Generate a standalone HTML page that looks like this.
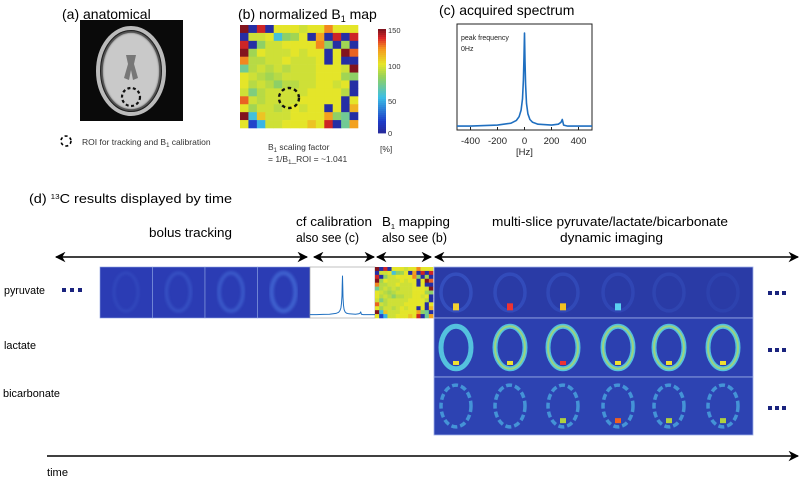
<!DOCTYPE html>
<html><head><meta charset="utf-8">
<style>
html,body{margin:0;padding:0;background:#fff;overflow:hidden;}
svg{display:block;font-family:"Liberation Sans",sans-serif;}
.c{font-family:"Liberation Sans Narrow","Liberation Sans",sans-serif;}
</style></head>
<body>
<svg id="fig" width="800" height="479" viewBox="0 0 800 479" xmlns="http://www.w3.org/2000/svg">
<defs>
<marker id="ah" viewBox="0 0 10 10" refX="9" refY="5" markerWidth="7" markerHeight="7" orient="auto-start-reverse"><path d="M0,0 L10,5 L0,10 L3,5 z" fill="#000"/></marker>
<filter id="blur1"><feGaussianBlur stdDeviation="1.2"/></filter>
</defs>
<text x="62" y="19" font-size="14">(a) anatomical</text>
<text x="238" y="19" font-size="14">(b) normalized B<tspan font-size="9" dy="3">1</tspan><tspan dy="-3"> map</tspan></text>
<text x="439" y="15" font-size="14">(c) acquired spectrum</text>

<g>
<rect x="80" y="20" width="103" height="101" fill="#0a0a0a"/>
<ellipse cx="131" cy="71" rx="33" ry="43" fill="none" stroke="#bbb" stroke-width="4"/>
<ellipse cx="131" cy="71" rx="29" ry="39" fill="#c9c9c9" filter="url(#blur1)"/>
<ellipse cx="131" cy="71" rx="29" ry="39" fill="none" stroke="#555" stroke-width="1.5"/>
<path d="M126,55 L136,55 L134,64 L138,78 L133,80 L131,70 L129,80 L124,78 L128,64z" fill="#777"/>
<circle cx="131" cy="97" r="9" fill="none" stroke="#111" stroke-width="2.2" stroke-dasharray="3,2.5"/>
</g>
<circle cx="66" cy="141" r="5" fill="none" stroke="#000" stroke-width="1.6" stroke-dasharray="3,2.5"/>
<text x="82" y="145" font-size="8.5" fill="#333">ROI for tracking and B<tspan font-size="6" dy="2">1</tspan><tspan dy="-2"> calibration</tspan></text>

<g id="b1map"></g>
<circle cx="289" cy="98" r="10" fill="none" stroke="#111" stroke-width="2.4" stroke-dasharray="3.5,3"/>
<g id="cbar"></g>
<text x="388" y="33" font-size="7.5" fill="#333">150</text>
<text x="388" y="69" font-size="7.5" fill="#333">100</text>
<text x="388" y="104" font-size="7.5" fill="#333">50</text>
<text x="388" y="136" font-size="7.5" fill="#333">0</text>
<text x="380" y="152" font-size="8.5" fill="#333">[%]</text>
<text x="268" y="150" font-size="8.5" fill="#333">B<tspan font-size="6" dy="2">1</tspan><tspan dy="-2"> scaling factor</tspan></text>
<text x="268" y="162" font-size="8.5" fill="#333">= 1/B<tspan font-size="6" dy="2">1</tspan><tspan dy="-2">_ROI  = ~1.041</tspan></text>

<g id="spec"></g>

<!-- panel d -->
<text x="29" y="203" font-size="12.5" textLength="203" lengthAdjust="spacingAndGlyphs">(d) <tspan font-size="7" dy="-4">13</tspan><tspan dy="4">C results displayed by time</tspan></text>
<text x="149" y="237" font-size="12.5" textLength="83" lengthAdjust="spacingAndGlyphs">bolus tracking</text>
<text x="296" y="226" font-size="12.5" textLength="76" lengthAdjust="spacingAndGlyphs">cf calibration</text>
<text x="296" y="242" font-size="12.5" textLength="63" lengthAdjust="spacingAndGlyphs">also see (c)</text>
<text x="382" y="226" font-size="12.5" textLength="68" lengthAdjust="spacingAndGlyphs">B<tspan font-size="7" dy="3">1</tspan><tspan dy="-3"> mapping</tspan></text>
<text x="382" y="242" font-size="12.5" textLength="65" lengthAdjust="spacingAndGlyphs">also see (b)</text>
<text x="492" y="226" font-size="12.5" textLength="236" lengthAdjust="spacingAndGlyphs">multi-slice pyruvate/lactate/bicarbonate</text>
<text x="560" y="242" font-size="12.5" textLength="103" lengthAdjust="spacingAndGlyphs">dynamic imaging</text>
<g stroke="#000" stroke-width="1.5" fill="none">
<line x1="56" y1="257" x2="307" y2="257" marker-start="url(#ah)" marker-end="url(#ah)"/>
<line x1="314" y1="257" x2="374" y2="257" marker-start="url(#ah)" marker-end="url(#ah)"/>
<line x1="377" y1="257" x2="431" y2="257" marker-start="url(#ah)" marker-end="url(#ah)"/>
<line x1="435" y1="257" x2="798" y2="257" marker-start="url(#ah)" marker-end="url(#ah)"/>
<line x1="47" y1="456" x2="798" y2="456" marker-end="url(#ah)"/>
</g>
<text x="47" y="476" font-size="11" textLength="21" lengthAdjust="spacingAndGlyphs">time</text>
<text x="4" y="294" font-size="11" textLength="41" lengthAdjust="spacingAndGlyphs">pyruvate</text>
<text x="4" y="349" font-size="11" textLength="32" lengthAdjust="spacingAndGlyphs">lactate</text>
<text x="3" y="397" font-size="11" textLength="57" lengthAdjust="spacingAndGlyphs">bicarbonate</text>
<g fill="#1a237e">
<rect x="62" y="288" width="4" height="4"/><rect x="70" y="288" width="4" height="4"/><rect x="78" y="288" width="4" height="4"/>
<rect x="768" y="291" width="4" height="4"/><rect x="775" y="291" width="4" height="4"/><rect x="782" y="291" width="4" height="4"/>
<rect x="768" y="348" width="4" height="4"/><rect x="775" y="348" width="4" height="4"/><rect x="782" y="348" width="4" height="4"/>
<rect x="768" y="406" width="4" height="4"/><rect x="775" y="406" width="4" height="4"/><rect x="782" y="406" width="4" height="4"/>
</g>
<g id="rows"></g>
</svg>
<script>
const b1Rows = [
[150,5,140,5,100,100,100,95,100,100,125,100,100,100],
[5,95,95,100,55,80,85,100,5,120,5,140,5,140],
[140,5,80,95,95,100,100,100,100,125,80,5,85,5],
[150,85,100,95,95,95,100,95,100,100,5,100,150,130],
[125,90,90,95,95,100,95,95,95,100,5,100,5,5],
[70,90,95,90,95,90,95,95,95,100,100,100,95,150],
[100,95,90,85,90,95,95,95,95,100,100,100,85,80],
[100,90,95,90,80,90,90,95,95,100,100,95,100,5],
[95,75,90,95,95,95,95,95,100,100,100,100,90,5],
[130,95,90,95,95,95,95,100,100,100,100,100,5,100],
[100,85,95,95,90,95,100,95,100,100,5,100,5,115],
[150,55,110,95,95,95,100,100,100,100,120,80,70,5],
[100,20,50,95,95,100,100,100,110,100,140,5,70,120]
];
const cbarTicks = [0,50,100,150];
const specFreq = [-500,-400,-300,-200,-100,-60,-40,-25,-15,-8,-4,0,4,8,15,25,40,60,100,200,250,270,280,290,320,400,500];
const specAmp  = [0.01,0.01,0.015,0.02,0.04,0.07,0.11,0.18,0.3,0.5,0.75,1,0.7,0.45,0.25,0.14,0.08,0.05,0.03,0.02,0.03,0.05,0.08,0.02,0.01,0.01,0.01];
const specTicks = [-400,-200,0,200,400];

const NS="http://www.w3.org/2000/svg";
function mk(tag,attrs,parent){const e=document.createElementNS(NS,tag);for(const k in attrs)e.setAttribute(k,attrs[k]);parent.appendChild(e);return e;}
function jet(v){
  const t=Math.max(0,Math.min(1,v/150));
  const stops=[[0,[40,40,150]],[0.12,[30,60,200]],[0.35,[60,190,230]],[0.55,[150,210,90]],[0.67,[230,230,40]],[0.82,[245,150,30]],[0.92,[220,40,40]],[1,[130,20,30]]];
  for(let i=1;i<stops.length;i++){if(t<=stops[i][0]){const a=stops[i-1],b=stops[i];const f=(t-a[0])/(b[0]-a[0]);const c=a[1].map((x,j)=>Math.round(x+(b[1][j]-x)*f));return `rgb(${c})`;}}
  return 'rgb(130,20,30)';
}
function drawMap(g,x0,y0,w,h,name){
  const nr=b1Rows.length,nc=b1Rows[0].length,cw=w/nc,ch=h/nr;
  b1Rows.forEach((row,r)=>row.forEach((v,c)=>{
    const e=mk('rect',{x:x0+c*cw,y:y0+r*ch,width:cw+0.3,height:ch+0.3,fill:jet(v)},g);
    
    
  }));
}
drawMap(document.getElementById('b1map'),240,25,118,103,'b1-cell');
(function(){const g=document.getElementById('cbar');const y0=29,y1=133;
  for(let i=0;i<52;i++){const v=150*(1-i/52);const e=mk('rect',{x:378,y:y0+i*(y1-y0)/52,width:8,height:(y1-y0)/52+0.4,fill:jet(v)},g);
  
  }
})();
function drawSpec(g,x0,y0,x1,y1,axes,sw){
  const xs=f=>x0+(f+500)/1000*(x1-x0);
  const ys=a=>y1-3-a*(y1-y0-12);
  const d=specFreq.map((f,i)=>(i?'L':'M')+xs(f).toFixed(1)+','+ys(specAmp[i]).toFixed(1)).join(' ');
  if(axes){const r=mk('rect',{x:x0,y:y0,width:x1-x0,height:y1-y0,fill:'#fff',stroke:'#222','stroke-width':1},g);
    
    }
  const p=mk('path',{d:d,fill:'none',stroke:'#1f6fc0','stroke-width':sw,'stroke-linejoin':'round'},g);
  
  
  if(axes){
    specTicks.forEach(t=>{const tx=mk('text',{x:xs(t),y:y1+14,'font-size':9.5,'text-anchor':'middle',fill:'#222'},g);tx.textContent=t;
      
      
      const tl=mk('line',{x1:xs(t),x2:xs(t),y1:y1,y2:y1-3,stroke:'#222'},g);
      
      });
    const u=mk('text',{x:xs(0),y:y1+25,'font-size':9.5,'text-anchor':'middle',fill:'#222'},g);u.textContent='[Hz]';
    
    
    const a=mk('text',{x:x0+4,y:y0+16,'font-size':7,fill:'#222'},g);a.textContent='peak frequency';
    
    
    const b=mk('text',{x:x0+4,y:y0+27,'font-size':7,fill:'#222'},g);b.textContent='0Hz';
    
    
  }
}
drawSpec(document.getElementById('spec'),457,24,592,130,true,1.6);
(function(){
  const g=document.getElementById('rows');
  for(let i=0;i<4;i++){const x=100+i*52.5;
    const r=mk('rect',{x:x,y:267,width:52.5,height:51,fill:'#2b3cb4',stroke:'#8aa0e0','stroke-width':0.6},g);
    
    
    mk('ellipse',{cx:x+26,cy:292,rx:12,ry:19,fill:'none',stroke:'#3f63d0','stroke-width':3+i*0.5,opacity:0.3+i*0.2,filter:'url(#blur1)'},g);
  }
  const w=mk('rect',{x:310,y:267,width:65,height:51,fill:'#fff',stroke:'#999','stroke-width':0.6},g);
  
  
  drawSpec(g,310,267,375,318,false,1);
  drawMap(g,375,267,58,51,'b1-thumb-cell');
  const rowsY=[[434,267,51],[434,318,59],[434,377,58]];
  const bg=['#2a3ba6','#2c40b0','#2d43b2'];
  const ring=[['#3d5fd0',0.55],['#56c8e0',0.95],['#4aa8e0',0.8]];
  const cxs=[456,510,563,618,669,723];
  rowsY.forEach((ry,k)=>{
    const r=mk('rect',{x:ry[0],y:ry[1],width:319,height:ry[2],fill:bg[k],stroke:'#9fb0e8','stroke-width':0.8},g);
    
    
    cxs.forEach((cx,i)=>{const cy=ry[1]+ry[2]/2;
      mk('ellipse',{cx:cx,cy:cy,rx:15,ry:ry[2]*0.36,fill:'none',stroke:ring[k][0],'stroke-width':k==1?5:3.5,opacity:k==0?Math.max(0.2,ring[k][1]-i*0.07):ring[k][1],'stroke-dasharray':k==2?'6,3':'none'},g);
      if(k==1&&i>0){mk('ellipse',{cx:cx,cy:cy,rx:15,ry:ry[2]*0.36,fill:'none',stroke:'#b8dc5a','stroke-width':2,opacity:0.7},g);}
      const sy=cy+ry[2]*0.33;
      if(k==0&&i<4){mk('rect',{x:cx-3,y:sy-6,width:6,height:7,fill:['#f2d030','#e33','#f2c020','#5ad0f0'][i]},g);}
      if(k==1){mk('rect',{x:cx-3,y:sy-6,width:6,height:4,fill:i==2?'#e33':'#f0e030'},g);}
      if(k==2&&i>1){mk('rect',{x:cx-3,y:sy-7,width:6,height:5,fill:i==3?'#f06020':'#b0d040'},g);}
    });
  });
})();
</script>
</body></html>
